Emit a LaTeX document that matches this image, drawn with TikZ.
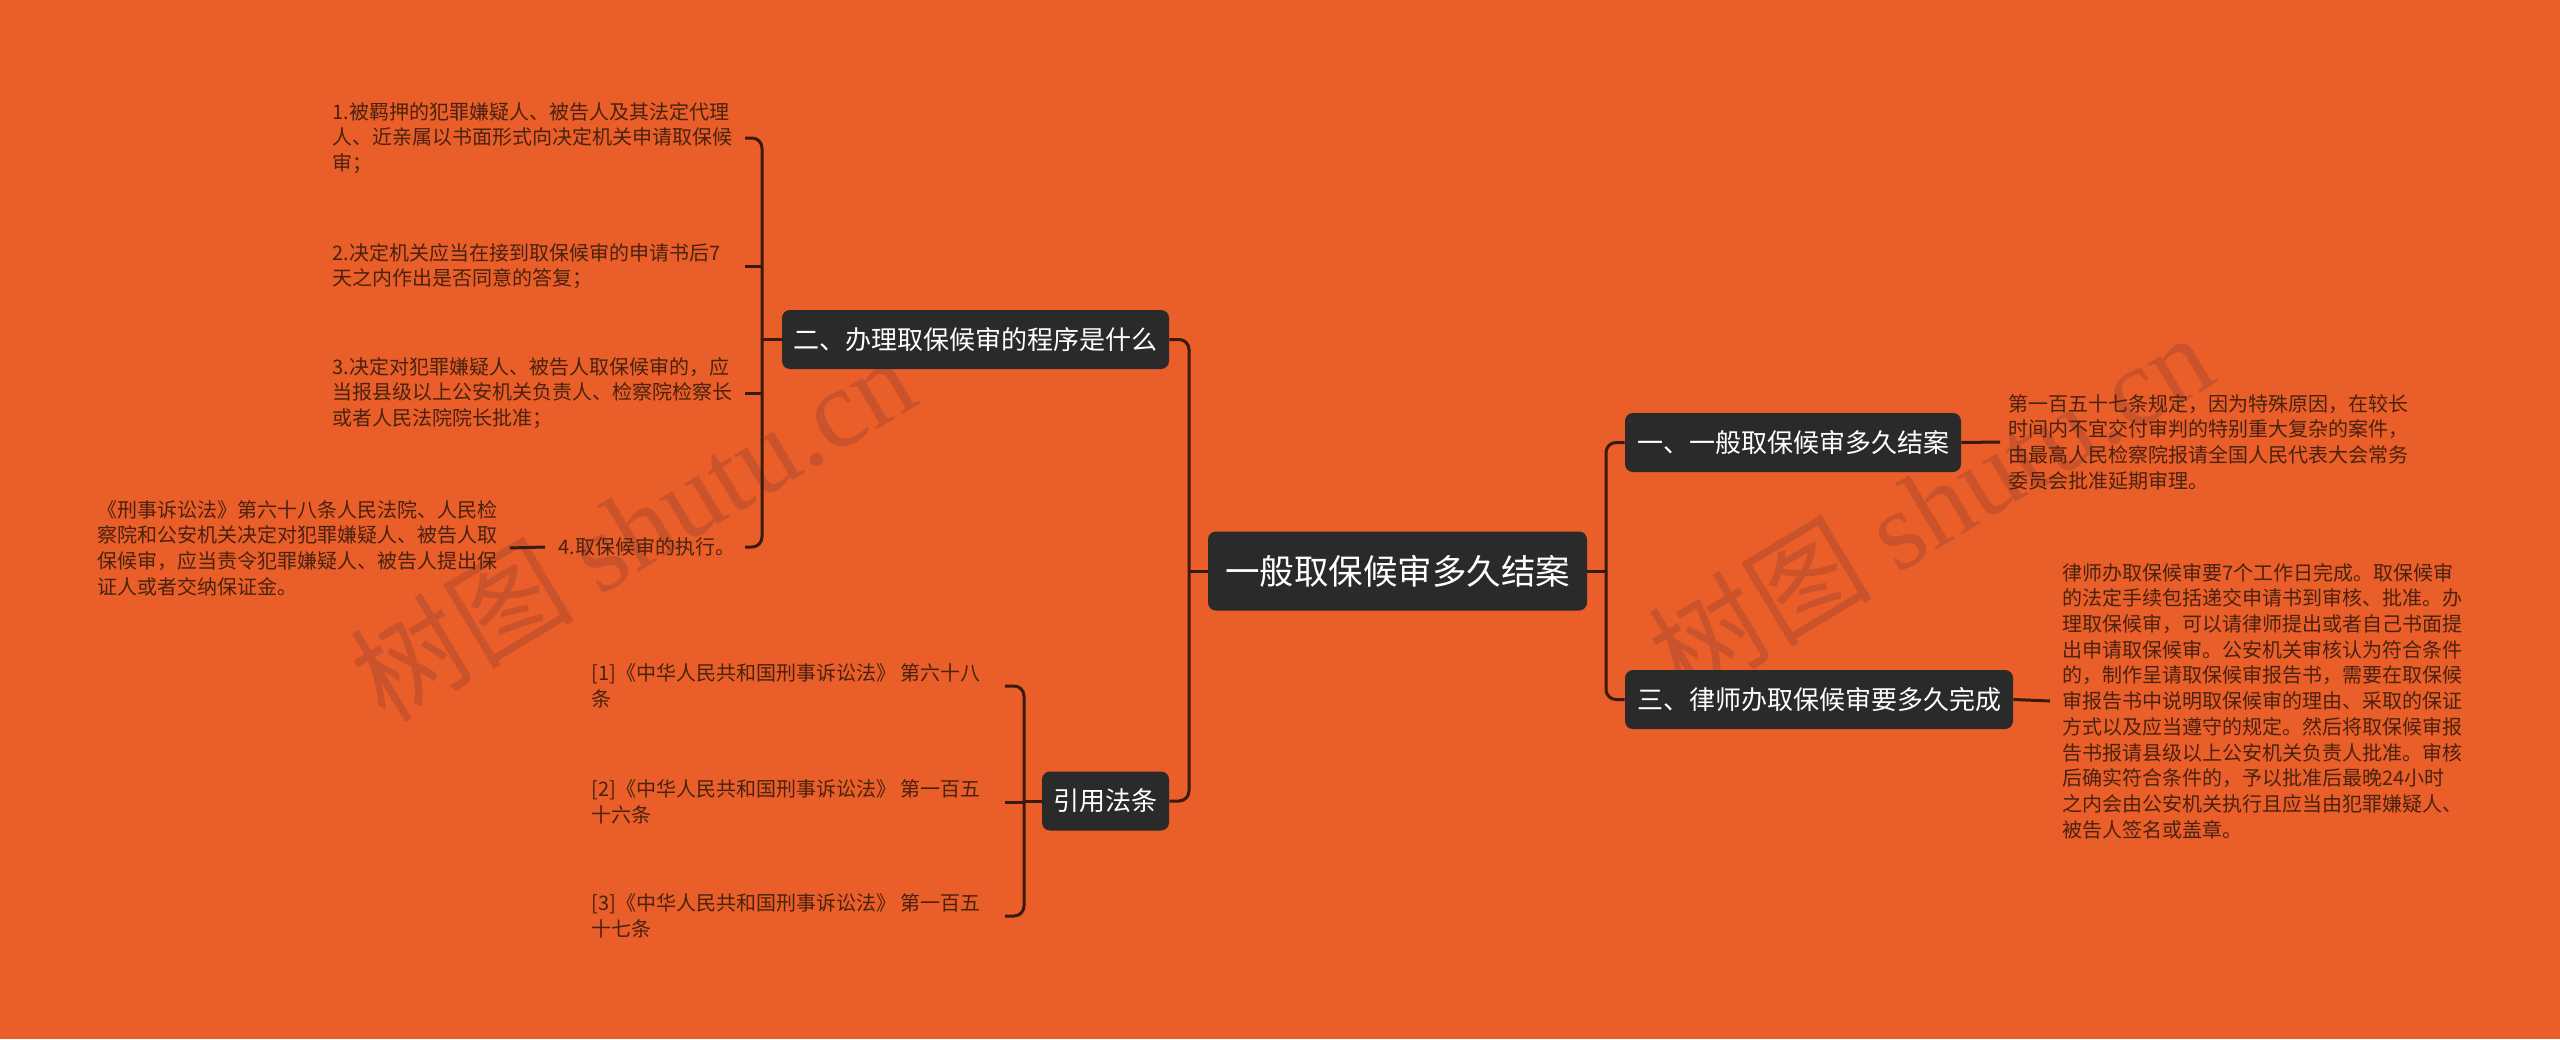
\documentclass[tikz,border=0pt]{standalone}
\usepackage{fontspec}
\setmainfont{Noto Sans CJK SC}
\newfontfamily\wmlatin{Liberation Serif}
\definecolor{bgc}{HTML}{E95E29}
\definecolor{wmc}{HTML}{CB532C}
\definecolor{boxc}{HTML}{2A2A2A}
\definecolor{linec}{HTML}{3A1A0C}
\definecolor{leafc}{HTML}{4A220F}
\begin{document}
\begin{tikzpicture}[x=0.5pt,y=-0.5pt,
  conn/.style={draw=linec, line width=1.5pt, rounded corners=5pt},
  topic/.style={fill=boxc, text=white, rounded corners=4pt, inner sep=0pt,
    minimum height=29.5pt, font=\fontsize{13pt}{15pt}\selectfont},
  leaf/.style={anchor=west, inner sep=0pt, align=left, text=leafc,
    font=\fontsize{10pt}{12.85pt}\selectfont},
  wm/.style={text=wmc, rotate=31, inner sep=0pt, font=\fontsize{56pt}{60pt}\selectfont}]
\useasboundingbox (0,0) rectangle (2560,1039);
\fill[bgc] (0,0) rectangle (2560,1039);

% watermarks
\node[wm] (w1) at (632,527) {树图 {\wmlatin shutu.cn}};
\node[wm] (w2) at (1930,505) {树图 {\wmlatin shutu.cn}};

% topics
\node[topic, minimum width=189.5pt, minimum height=39.5pt,
  font=\fontsize{17.25pt}{20pt}\selectfont] (root) at (1397.5,571) {一般取保候审多久结案};
\node[topic, minimum width=193.5pt] (b2) at (975.5,339.5) {二、办理取保候审的程序是什么};
\node[topic, minimum width=63.5pt] (law) at (1105.5,801) {引用法条};
\node[topic, minimum width=168pt] (b1) at (1793,442.5) {一、一般取保候审多久结案};
\node[topic, minimum width=194pt] (b3) at (1819,699.5) {三、律师办取保候审要多久完成};

% leaves
\node[leaf] (i1) at (332,138) {1.被羁押的犯罪嫌疑人、被告人及其法定代理\\人、近亲属以书面形式向决定机关申请取保候\\审；};
\node[leaf] (i2) at (332,266) {2.决定机关应当在接到取保候审的申请书后7\\天之内作出是否同意的答复；};
\node[leaf] (i3) at (332,393) {3.决定对犯罪嫌疑人、被告人取保候审的，应\\当报县级以上公安机关负责人、检察院检察长\\或者人民法院院长批准；};
\node[leaf] (i4) at (558,547) {4.取保候审的执行。};
\node[leaf] (i4c) at (97,548) {《刑事诉讼法》第六十八条人民法院、人民检\\察院和公安机关决定对犯罪嫌疑人、被告人取\\保候审，应当责令犯罪嫌疑人、被告人提出保\\证人或者交纳保证金。};
\node[leaf] (r1) at (591,686) {[1]《中华人民共和国刑事诉讼法》 第六十八\\条};
\node[leaf] (r2) at (591,802) {[2]《中华人民共和国刑事诉讼法》 第一百五\\十六条};
\node[leaf] (r3) at (591,916) {[3]《中华人民共和国刑事诉讼法》 第一百五\\十七条};
\node[leaf] (c1) at (2008,442) {第一百五十七条规定，因为特殊原因，在较长\\时间内不宜交付审判的特别重大复杂的案件，\\由最高人民检察院报请全国人民代表大会常务\\委员会批准延期审理。};
\node[leaf] (c3) at (2062,701) {律师办取保候审要7个工作日完成。取保候审\\的法定手续包括递交申请书到审核、批准。办\\理取保候审，可以请律师提出或者自己书面提\\出申请取保候审。公安机关审核认为符合条件\\的，制作呈请取保候审报告书，需要在取保候\\审报告书中说明取保候审的理由、采取的保证\\方式以及应当遵守的规定。然后将取保候审报\\告书报请县级以上公安机关负责人批准。审核\\后确实符合条件的，予以批准后最晚24小时\\之内会由公安机关执行且应当由犯罪嫌疑人、\\被告人签名或盖章。};

% spine coordinates
\coordinate (sL) at (745,0);
\coordinate (spA) at (762,0);
\coordinate (sR) at (1005,0);
\coordinate (spB) at (1024,0);
\coordinate (spC) at (1189,0);
\coordinate (spD) at (1606,0);

% connectors
\draw[conn] (root.west) -- (root.west -| spC);
\draw[conn] (b2.east) -- (b2.east -| spC) -- (law.east -| spC) -- (law.east);
\draw[conn] (root.east) -- (root.east -| spD);
\draw[conn] (b1.west) -- (b1.west -| spD) -- (b3.west -| spD) -- (b3.west);
\draw[conn] (b2.west) -- (b2.west -| spA);
\draw[conn] (i1.east -| sL) -- (i1.east -| spA) -- (i4.east -| spA) -- (i4.east -| sL);
\draw[conn] (i2.east -| sL) -- (i2.east -| spA);
\draw[conn] (i3.east -| sL) -- (i3.east -| spA);
\draw[conn] ([xshift=6pt]i4c.east) -- ([xshift=-6.5pt]i4.west);
\draw[conn] (law.west) -- (law.west -| spB);
\draw[conn] (r1.east -| sR) -- (r1.east -| spB) -- (r3.east -| spB) -- (r3.east -| sR);
\draw[conn] (r2.east -| sR) -- (r2.east -| spB);
\draw[conn] (b1.east) -- ([xshift=-4pt]c1.west);
\draw[conn] (b3.east) -- ([xshift=-6pt]c3.west);
\end{tikzpicture}
\end{document}
